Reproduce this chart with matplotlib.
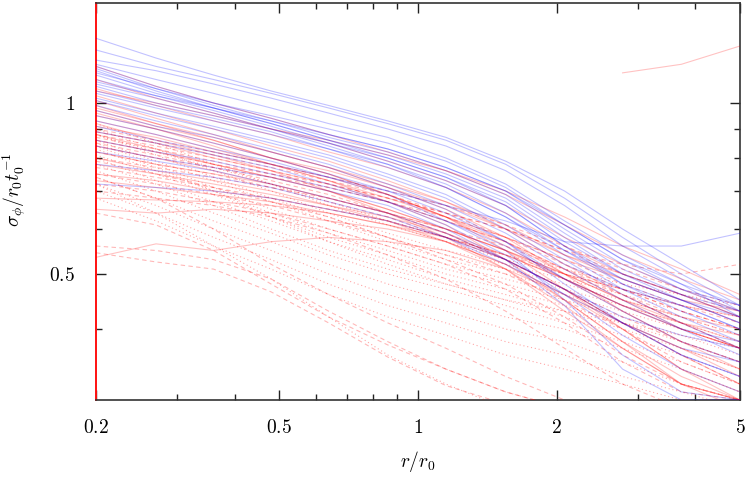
import numpy as np
import matplotlib
matplotlib.use("Agg")
import matplotlib.pyplot as plt
from matplotlib.ticker import FixedLocator, FixedFormatter, NullFormatter

plt.rcParams['mathtext.fontset'] = 'cm'
plt.rcParams['font.family'] = ['DejaVu Serif']

# radial grid r/r0
r = [0.2, 0.27, 0.36, 0.48, 0.64, 0.86, 1.15, 1.55, 2.08, 2.78, 3.73, 5.0]
nan = float('nan')

# blue solid curves
blue = [
    [1.30, 1.20, 1.12, 1.05, 0.99, 0.93, 0.87, 0.79, 0.70, 0.60, 0.52, 0.45],
    [1.24, 1.16, 1.10, 1.04, 0.98, 0.92, 0.86, 0.78, 0.68, 0.58, 0.50, 0.44],
    [1.19, 1.14, 1.08, 1.02, 0.96, 0.90, 0.84, 0.76, 0.66, 0.56, 0.49, 0.43],
    [1.17, 1.10, 1.04, 0.98, 0.92, 0.87, 0.80, 0.72, 0.62, 0.54, 0.48, 0.42],
    [1.16, 1.07, 1.00, 0.94, 0.88, 0.83, 0.77, 0.70, 0.60, 0.52, 0.47, 0.43],
    [1.15, 1.06, 0.99, 0.93, 0.87, 0.82, 0.76, 0.69, 0.59, 0.51, 0.46, 0.42],
    [1.14, 1.05, 0.98, 0.92, 0.86, 0.81, 0.75, 0.68, 0.58, 0.50, 0.46, 0.43],
    [1.12, 1.04, 0.98, 0.92, 0.86, 0.80, 0.74, 0.67, 0.57, 0.50, 0.45, 0.41],
    [1.10, 1.03, 0.97, 0.91, 0.85, 0.80, 0.74, 0.66, 0.56, 0.49, 0.45, 0.42],
    [1.08, 1.02, 0.96, 0.90, 0.85, 0.79, 0.73, 0.66, 0.56, 0.48, 0.44, 0.40],
    [1.07, 1.00, 0.95, 0.90, 0.84, 0.78, 0.72, 0.64, 0.55, 0.48, 0.43, 0.39],
    [1.05, 0.99, 0.94, 0.89, 0.83, 0.78, 0.71, 0.63, 0.54, 0.47, 0.42, 0.38],
    [1.04, 0.98, 0.93, 0.88, 0.83, 0.77, 0.71, 0.63, 0.55, 0.49, 0.45, 0.41],
    [1.02, 0.96, 0.91, 0.86, 0.81, 0.75, 0.69, 0.61, 0.53, 0.46, 0.41, 0.37],
    [1.01, 0.95, 0.90, 0.85, 0.80, 0.74, 0.68, 0.60, 0.52, 0.47, 0.44, 0.40],
    [0.99, 0.93, 0.88, 0.83, 0.78, 0.72, 0.66, 0.59, 0.51, 0.45, 0.40, 0.36],
    [0.97, 0.91, 0.87, 0.82, 0.77, 0.71, 0.65, 0.57, 0.48, 0.41, 0.36, 0.33],
    [0.95, 0.90, 0.85, 0.80, 0.75, 0.70, 0.64, 0.57, 0.49, 0.43, 0.38, 0.35],
    [0.93, 0.88, 0.83, 0.79, 0.74, 0.69, 0.62, 0.55, 0.45, 0.36, 0.31, 0.30],
    [0.91, 0.86, 0.82, 0.78, 0.74, 0.70, 0.66, 0.62, 0.57, 0.56, 0.56, 0.59],
    [0.89, 0.85, 0.81, 0.77, 0.72, 0.67, 0.61, 0.54, 0.46, 0.39, 0.34, 0.31],
    [0.86, 0.82, 0.79, 0.75, 0.71, 0.67, 0.62, 0.56, 0.49, 0.44, 0.40, 0.38],
    [0.84, 0.80, 0.77, 0.74, 0.70, 0.66, 0.60, 0.53, 0.44, 0.34, 0.30, 0.30],
    [0.82, 0.79, 0.76, 0.72, 0.68, 0.64, 0.59, 0.53, 0.47, 0.42, 0.39, 0.37],
    [0.78, 0.76, 0.74, 0.71, 0.67, 0.63, 0.58, 0.52, 0.46, 0.41, 0.37, 0.35],
    [0.72, 0.71, 0.70, 0.68, 0.65, 0.62, 0.58, 0.53, 0.47, 0.41, 0.36, 0.33],
    [1.09, 1.03, 0.98, 0.93, 0.88, 0.83, 0.77, 0.70, 0.61, 0.53, 0.47, 0.44],
    [1.13, 1.06, 1.00, 0.95, 0.90, 0.85, 0.79, 0.71, 0.61, 0.53, 0.48, 0.44],
]

# red solid curves
red_solid = [
    [1.16, 1.07, 1.00, 0.94, 0.88, 0.82, 0.76, 0.69, 0.61, 0.54, 0.49, 0.45],
    [1.10, 1.02, 0.96, 0.90, 0.85, 0.79, 0.73, 0.66, 0.58, 0.52, 0.47, 0.43],
    [1.06, 0.99, 0.93, 0.88, 0.82, 0.77, 0.71, 0.64, 0.56, 0.50, 0.46, 0.42],
    [1.03, 0.96, 0.90, 0.84, 0.79, 0.73, 0.67, 0.60, 0.52, 0.46, 0.41, 0.38],
    [1.01, 0.94, 0.88, 0.82, 0.77, 0.71, 0.65, 0.58, 0.50, 0.43, 0.38, 0.35],
    [0.99, 0.92, 0.86, 0.80, 0.75, 0.69, 0.63, 0.55, 0.47, 0.40, 0.34, 0.31],
    [0.98, 0.92, 0.87, 0.82, 0.77, 0.72, 0.67, 0.61, 0.54, 0.49, 0.45, 0.41],
    [0.96, 0.90, 0.84, 0.78, 0.73, 0.67, 0.61, 0.53, 0.45, 0.38, 0.33, 0.30],
    [0.95, 0.90, 0.85, 0.80, 0.76, 0.71, 0.66, 0.60, 0.54, 0.50, 0.46, 0.42],
    [0.93, 0.88, 0.83, 0.78, 0.74, 0.69, 0.63, 0.57, 0.50, 0.45, 0.41, 0.37],
    [0.92, 0.86, 0.81, 0.76, 0.70, 0.64, 0.58, 0.51, 0.43, 0.37, 0.32, 0.29],
    [0.91, 0.87, 0.82, 0.78, 0.73, 0.68, 0.63, 0.58, 0.53, 0.49, 0.45, 0.43],
    [0.89, 0.85, 0.80, 0.76, 0.72, 0.67, 0.62, 0.57, 0.51, 0.45, 0.40, 0.37],
    [0.88, 0.83, 0.78, 0.74, 0.70, 0.65, 0.60, 0.55, 0.49, 0.43, 0.38, 0.34],
    [0.86, 0.82, 0.78, 0.74, 0.70, 0.65, 0.60, 0.55, 0.50, 0.45, 0.42, 0.40],
    [0.84, 0.80, 0.76, 0.72, 0.68, 0.64, 0.59, 0.53, 0.47, 0.41, 0.37, 0.33],
    [0.82, 0.78, 0.75, 0.72, 0.68, 0.64, 0.60, 0.55, 0.50, 0.47, 0.44, 0.42],
    [0.80, 0.76, 0.73, 0.70, 0.66, 0.62, 0.57, 0.51, 0.44, 0.37, 0.32, 0.30],
    [0.78, 0.75, 0.72, 0.69, 0.66, 0.63, 0.59, 0.54, 0.49, 0.44, 0.40, 0.37],
    [0.75, 0.73, 0.70, 0.68, 0.65, 0.62, 0.58, 0.53, 0.47, 0.41, 0.36, 0.32],
    [0.73, 0.71, 0.69, 0.67, 0.64, 0.61, 0.57, 0.52, 0.46, 0.40, 0.34, 0.30],
    [0.68, 0.675, 0.67, 0.66, 0.64, 0.61, 0.58, 0.54, 0.49, 0.44, 0.41, 0.39],
    [0.65, 0.64, 0.65, 0.64, 0.62, 0.60, 0.57, 0.52, 0.45, 0.38, 0.32, 0.30],
    [0.535, 0.565, 0.55, 0.57, 0.58, 0.57, 0.55, 0.51, 0.46, 0.41, 0.37, 0.34],
    [nan, nan, nan, nan, nan, nan, nan, nan, nan, 1.13, 1.17, 1.26],
    [1.05, 1.00, 0.95, 0.90, 0.86, 0.81, 0.76, 0.70, 0.63, 0.56, 0.51, 0.46],
    [0.97, 0.91, 0.86, 0.80, 0.75, 0.69, 0.63, 0.56, 0.49, 0.44, 0.40, 0.37],
]

# red dashed curves
red_dashed = [
    [0.90, 0.86, 0.82, 0.78, 0.74, 0.70, 0.66, 0.61, 0.56, 0.51, 0.47, 0.44],
    [0.89, 0.85, 0.81, 0.77, 0.73, 0.69, 0.64, 0.58, 0.52, 0.47, 0.43, 0.40],
    [0.88, 0.84, 0.80, 0.76, 0.72, 0.68, 0.64, 0.60, 0.55, 0.52, 0.50, 0.52],
    [0.87, 0.83, 0.79, 0.75, 0.71, 0.67, 0.62, 0.57, 0.51, 0.46, 0.41, 0.37],
    [0.86, 0.82, 0.78, 0.75, 0.72, 0.68, 0.64, 0.60, 0.55, 0.50, 0.46, 0.43],
    [0.85, 0.81, 0.77, 0.73, 0.69, 0.64, 0.59, 0.53, 0.47, 0.41, 0.36, 0.32],
    [0.84, 0.80, 0.77, 0.74, 0.71, 0.67, 0.63, 0.58, 0.53, 0.48, 0.44, 0.41],
    [0.82, 0.78, 0.75, 0.71, 0.67, 0.63, 0.58, 0.53, 0.47, 0.42, 0.38, 0.35],
    [0.80, 0.77, 0.74, 0.71, 0.68, 0.64, 0.60, 0.56, 0.51, 0.47, 0.43, 0.40],
    [0.79, 0.75, 0.71, 0.67, 0.63, 0.58, 0.53, 0.48, 0.42, 0.36, 0.32, 0.30],
    [0.77, 0.74, 0.71, 0.68, 0.65, 0.62, 0.58, 0.54, 0.50, 0.46, 0.42, 0.39],
    [0.75, 0.72, 0.69, 0.66, 0.62, 0.58, 0.54, 0.50, 0.45, 0.40, 0.35, 0.32],
    [0.72, 0.70, 0.67, 0.64, 0.60, 0.56, 0.52, 0.47, 0.41, 0.35, 0.31, 0.30],
    [0.70, 0.68, 0.66, 0.63, 0.59, 0.54, 0.49, 0.43, 0.37, 0.32, 0.29, 0.27],
    [0.74, 0.68, 0.60, 0.52, 0.46, 0.41, 0.37, 0.33, 0.30, 0.28, 0.27, 0.26],
    [0.545, 0.525, 0.51, 0.465, 0.41, 0.357, 0.318, 0.295, 0.28, 0.27, 0.26, 0.25],
    [0.64, 0.61, 0.55, 0.48, 0.42, 0.375, 0.34, 0.31, 0.29, 0.28, 0.27, 0.26],
    [0.56, 0.55, 0.53, 0.49, 0.43, 0.38, 0.34, 0.31, 0.29, 0.28, 0.27, 0.26],
]

# red dotted curves
red_dotted = [
    [0.92, 0.85, 0.78, 0.72, 0.66, 0.61, 0.57, 0.53, 0.50, 0.47, 0.44, 0.42],
    [0.90, 0.83, 0.76, 0.70, 0.64, 0.59, 0.55, 0.52, 0.49, 0.46, 0.43, 0.40],
    [0.88, 0.81, 0.74, 0.68, 0.63, 0.58, 0.54, 0.51, 0.48, 0.45, 0.42, 0.39],
    [0.86, 0.79, 0.73, 0.67, 0.62, 0.57, 0.53, 0.50, 0.47, 0.44, 0.41, 0.38],
    [0.85, 0.78, 0.71, 0.65, 0.60, 0.56, 0.52, 0.49, 0.46, 0.43, 0.40, 0.37],
    [0.83, 0.76, 0.70, 0.64, 0.59, 0.55, 0.51, 0.48, 0.45, 0.42, 0.39, 0.36],
    [0.81, 0.75, 0.69, 0.63, 0.58, 0.54, 0.50, 0.47, 0.44, 0.41, 0.38, 0.35],
    [0.80, 0.73, 0.67, 0.62, 0.57, 0.53, 0.49, 0.46, 0.43, 0.40, 0.37, 0.34],
    [0.78, 0.72, 0.66, 0.60, 0.55, 0.51, 0.48, 0.45, 0.42, 0.39, 0.36, 0.33],
    [0.76, 0.70, 0.64, 0.59, 0.54, 0.50, 0.47, 0.44, 0.41, 0.38, 0.35, 0.32],
    [0.74, 0.68, 0.62, 0.57, 0.52, 0.48, 0.45, 0.42, 0.40, 0.37, 0.34, 0.31],
    [0.72, 0.66, 0.60, 0.55, 0.50, 0.46, 0.43, 0.40, 0.38, 0.35, 0.32, 0.30],
    [0.70, 0.64, 0.58, 0.53, 0.48, 0.44, 0.41, 0.38, 0.36, 0.33, 0.31, 0.29],
    [0.68, 0.62, 0.56, 0.51, 0.46, 0.42, 0.39, 0.36, 0.34, 0.32, 0.30, 0.28],
    [0.88, 0.82, 0.77, 0.72, 0.67, 0.62, 0.58, 0.54, 0.51, 0.48, 0.46, 0.44],
    [0.84, 0.77, 0.70, 0.63, 0.57, 0.52, 0.48, 0.45, 0.43, 0.41, 0.39, 0.37],
    [0.72, 0.64, 0.56, 0.49, 0.42, 0.36, 0.32, 0.29, 0.27, 0.26, 0.25, 0.24],
]

x_ticks = [0.2, 0.5, 1, 2, 5]
x_tick_labels = ['0.2', '0.5', '1', '2', '5']
x_minor = [0.3, 0.4, 0.6, 0.7, 0.8, 0.9, 3, 4]
y_ticks = [0.5, 1]
y_tick_labels = ['0.5', '1']
y_minor = [0.4, 0.6, 0.7, 0.8, 0.9]

fig = plt.figure(figsize=(7.48, 4.79), dpi=100)
ax = fig.add_axes([96/748, 1 - 400/479, (740 - 96)/748, (400 - 3)/479])
ax.set_xscale('log')
ax.set_yscale('log')

for ys in red_dotted:
    ax.plot(r, ys, color='red', alpha=0.35, lw=0.8, linestyle=(0, (1, 2.5)), zorder=3)
for ys in red_dashed:
    ax.plot(r, ys, color='red', alpha=0.28, lw=0.8, linestyle=(0, (4, 3)), zorder=3)
for ys in red_solid:
    ax.plot(r, ys, color='red', alpha=0.24, lw=0.8, zorder=3)
for ys in blue:
    ax.plot(r, ys, color='blue', alpha=0.24, lw=0.8, zorder=3)

ax.set_xlim(0.2, 5)
ax.set_ylim(0.3, 1.5)

ax.xaxis.set_major_locator(FixedLocator(x_ticks))
ax.xaxis.set_major_formatter(FixedFormatter(['$' + t + '$' for t in x_tick_labels]))
ax.xaxis.set_minor_locator(FixedLocator(x_minor))
ax.xaxis.set_minor_formatter(NullFormatter())
ax.yaxis.set_major_locator(FixedLocator(y_ticks))
ax.yaxis.set_major_formatter(FixedFormatter(['$' + t + '$' for t in y_tick_labels]))
ax.yaxis.set_minor_locator(FixedLocator(y_minor))
ax.yaxis.set_minor_formatter(NullFormatter())

ax.tick_params(which='both', direction='in', top=True, right=True, color='#222222', width=1.0)
ax.tick_params(which='major', length=7, labelsize=14)
ax.tick_params(which='minor', length=4)
ax.tick_params(axis='x', which='major', pad=14)
ax.tick_params(axis='y', which='major', pad=15)

for s in ['top', 'right', 'bottom']:
    ax.spines[s].set_color('#333333')
    ax.spines[s].set_linewidth(1.2)
ax.spines['left'].set_color('#ff1010')
ax.spines['left'].set_linewidth(1.4)

ax.set_xlabel(r'$r/r_0$', fontsize=14, labelpad=8)
ax.set_ylabel(r'$\sigma_\phi/r_0t_0^{-1}$', fontsize=14, labelpad=6)
ax.yaxis.set_label_coords(-0.105, 0.53)

fig.savefig('out.png', dpi=100)
